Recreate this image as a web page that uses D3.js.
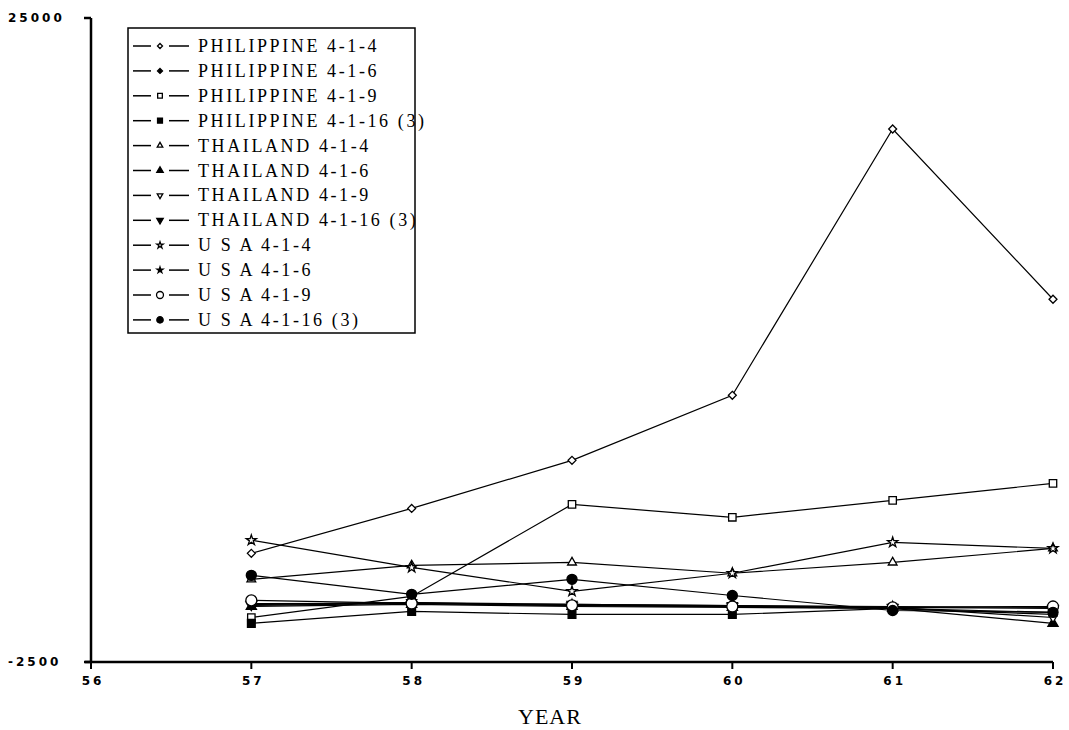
<!DOCTYPE html>
<html>
<head>
<meta charset="utf-8">
<script src="https://cdn.jsdelivr.net/npm/d3@7"></script>
<style>
  body { margin: 0; background: #fff; }
  svg { display: block; }
  .tick-label { font-family: "DejaVu Sans", sans-serif; font-weight: bold; font-size: 12px; letter-spacing: 3px; }
  .legend-text { font-family: "Liberation Serif", serif; font-size: 18px; letter-spacing: 2.6px; }
</style>
</head>
<body>
<svg id="chart" width="1069" height="730"></svg>
<script>
// years on the x axis
var years = [57, 58, 59, 60, 61, 62];
var xTicks = [56, 57, 58, 59, 60, 61, 62];
var yTicks = [-2500, 25000];

// series values
var phil4  = [2140, 4060, 6110, 8890, 20260, 12990];
var phil6  = [-40, 40, -90, -130, -210, -470];
var phil9  = [-600, 300, 4230, 3680, 4400, 5130];
var phil16 = [-850, -340, -470, -470, -210, -380];
var thai4  = [1030, 1630, 1750, 1290, 1750, 2350];
var thai6  = [-130, -40, -130, -170, -210, -850];
var thai9  = [-80, 0, -80, -130, -170, -600];
var thai16 = [-40, 40, -40, -90, -170, -210];
var usa4   = [2700, 1540, 520, 1290, 2610, 2350];
var usa6   = [-10, 0, -40, -90, -130, -170];
var usa9   = [130, 0, -80, -130, -170, -130];
var usa16  = [1200, 390, 1030, 340, -300, -380];

var labels = ["PHILIPPINE 4-1-4", "PHILIPPINE 4-1-6", "PHILIPPINE 4-1-9", "PHILIPPINE 4-1-16 (3)",
              "THAILAND 4-1-4", "THAILAND 4-1-6", "THAILAND 4-1-9", "THAILAND 4-1-16 (3)",
              "U S A 4-1-4", "U S A 4-1-6", "U S A 4-1-9", "U S A 4-1-16 (3)"];

var series = [phil4, phil6, phil9, phil16, thai4, thai6, thai9, thai16, usa4, usa6, usa9, usa16];

// marker shape + fill for each series
var markers = [
  {shape: d3.symbolDiamond2, fill: false, size: 40, rot: 0},
  {shape: d3.symbolDiamond2, fill: true, size: 40, rot: 0},
  {shape: d3.symbolSquare2, fill: false, size: 70, rot: 0},
  {shape: d3.symbolSquare, fill: true, size: 60, rot: 0},
  {shape: d3.symbolTriangle2, fill: false, size: 55, rot: 0},
  {shape: d3.symbolTriangle, fill: true, size: 45, rot: 0},
  {shape: d3.symbolTriangle2, fill: false, size: 55, rot: 180},
  {shape: d3.symbolTriangle, fill: true, size: 45, rot: 180},
  {shape: d3.symbolStar, fill: false, size: 32, rot: 0},
  {shape: d3.symbolStar, fill: true, size: 28, rot: 0},
  {shape: d3.symbolCircle, fill: false, size: 95, rot: 0},
  {shape: d3.symbolCircle, fill: true, size: 80, rot: 0}
];

var svg = d3.select("#chart");

var x = d3.scaleLinear().domain([56, 62]).range([91, 1053]);
var y = d3.scaleLinear().domain([-2500, 25000]).range([662, 18]);

// axes
svg.append("line").attr("x1", x(56)).attr("x2", x(56)).attr("y1", y(25000)).attr("y2", y(-2500))
  .attr("stroke", "#000").attr("stroke-width", 2.5);
svg.append("line").attr("x1", x(56) - 6).attr("x2", x(62)).attr("y1", y(-2500)).attr("y2", y(-2500))
  .attr("stroke", "#000").attr("stroke-width", 2.5);

svg.selectAll(".ytick").data(yTicks).enter().append("line")
  .attr("x1", x(56) - 7).attr("x2", x(56))
  .attr("y1", function(d){ return y(d) }).attr("y2", function(d){ return y(d) })
  .attr("stroke", "#000").attr("stroke-width", 2.5);

svg.selectAll(".ylabel").data(yTicks).enter().append("text")
  .attr("class", "tick-label")
  .attr("x", 8).attr("y", function(d){ return y(d) + 4 })
  .text(function(d){ return d });

svg.selectAll(".xtick").data(xTicks).enter().append("line")
  .attr("x1", function(d){ return x(d) }).attr("x2", function(d){ return x(d) })
  .attr("y1", y(-2500)).attr("y2", y(-2500) + 7)
  .attr("stroke", "#000").attr("stroke-width", 2);

svg.selectAll(".xlabel").data(xTicks).enter().append("text")
  .attr("class", "tick-label")
  .attr("x", function(d){ return x(d) + 2 }).attr("y", 685)
  .attr("text-anchor", "middle")
  .text(function(d){ return d });

svg.append("text")
  .attr("x", 550).attr("y", 724)
  .attr("text-anchor", "middle")
  .style("font-family", "Liberation Serif, serif").style("font-size", "22px").style("letter-spacing", "1px")
  .text("YEAR");

// lines
var line = d3.line()
  .x(function(d, i){ return x(years[i]) })
  .y(function(d){ return y(d) });

series.forEach(function(s, k){
  svg.append("path").datum(s)
    .attr("d", line)
    .attr("fill", "none")
    .attr("stroke", "#000")
    .attr("stroke-width", 1.2);
});

function drawMarker(g, m, cx, cy){
  g.append("path")
    .attr("d", d3.symbol().type(m.shape).size(m.size)())
    .attr("transform", "translate(" + cx + "," + cy + ") rotate(" + m.rot + ")")
    .attr("fill", m.fill ? "#000" : "#fff")
    .attr("stroke", "#000")
    .attr("stroke-width", 1.3);
}

series.forEach(function(s, k){
  s.forEach(function(v, i){
    drawMarker(svg, markers[k], x(years[i]), y(v));
  });
});

// legend
var legend = svg.append("g");
legend.append("rect")
  .attr("x", 128).attr("y", 28).attr("width", 287).attr("height", 305)
  .attr("fill", "#fff").attr("stroke", "#000").attr("stroke-width", 1.5);

labels.forEach(function(name, k){
  var ly = 46 + k * 24.9;
  legend.append("line").attr("x1", 133).attr("x2", 151).attr("y1", ly).attr("y2", ly)
    .attr("stroke", "#000").attr("stroke-width", 1.5);
  legend.append("line").attr("x1", 169).attr("x2", 189).attr("y1", ly).attr("y2", ly)
    .attr("stroke", "#000").attr("stroke-width", 1.5);
  var m = markers[k];
  drawMarker(legend, {shape: m.shape, fill: m.fill, size: m.size * 0.4, rot: m.rot}, 160, ly);
  legend.append("text").attr("class", "legend-text")
    .attr("x", 198).attr("y", ly + 6)
    .text(name);
});
</script>
</body>
</html>
